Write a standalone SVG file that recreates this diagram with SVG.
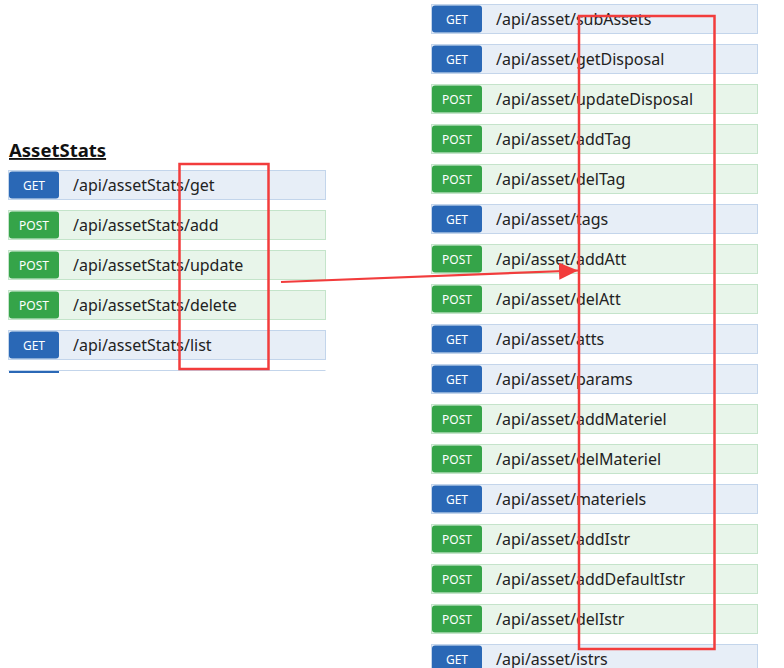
<svg xmlns="http://www.w3.org/2000/svg" width="784" height="668" viewBox="0 0 784 668">
<style>
.row-get{fill:#e7eef7;stroke:#c3d5eb;stroke-width:1}
.row-post{fill:#e8f5ea;stroke:#c4e4ca;stroke-width:1}
.b-get{fill:#2a68b6}
.b-post{fill:#35a449}
.m{font-family:"Noto Sans","Open Sans",sans-serif;font-size:12px;fill:#fff;text-anchor:middle}
.p{font-family:"Noto Sans","Open Sans",sans-serif;font-size:16px;fill:#222}
.title{font-family:"Noto Sans","Open Sans",sans-serif;font-size:18.5px;font-weight:bold;fill:#111;text-decoration:underline}
.hl{fill:none;stroke:#f23c3c;stroke-width:2.5}
</style>
<defs>
<marker id="ah" markerUnits="userSpaceOnUse" markerWidth="22" markerHeight="18" refX="19" refY="8.5" orient="auto">
<path d="M0,0 L19,8.5 L0,17 Z" fill="#f23c3c"/>
</marker>
</defs>
<rect width="784" height="668" fill="#fff"/>
<text class="title" x="9" y="157">AssetStats</text>
<g id="left-rows">
<g id="l-get" transform="translate(8.5,170.5)"><rect class="row-get" width="317" height="29"/><rect class="b-get" x="0.5" y="1" width="50" height="27" rx="3"/><text class="m" x="25.5" y="19.5">GET</text><text class="p" x="64.5" y="20.5">/api/assetStats/get</text></g>
<g id="l-add" transform="translate(8.5,210.5)"><rect class="row-post" width="317" height="29"/><rect class="b-post" x="0.5" y="1" width="50" height="27" rx="3"/><text class="m" x="25.5" y="19.5">POST</text><text class="p" x="64.5" y="20.5">/api/assetStats/add</text></g>
<g id="l-update" transform="translate(8.5,250.5)"><rect class="row-post" width="317" height="29"/><rect class="b-post" x="0.5" y="1" width="50" height="27" rx="3"/><text class="m" x="25.5" y="19.5">POST</text><text class="p" x="64.5" y="20.5">/api/assetStats/update</text></g>
<g id="l-delete" transform="translate(8.5,290.5)"><rect class="row-post" width="317" height="29"/><rect class="b-post" x="0.5" y="1" width="50" height="27" rx="3"/><text class="m" x="25.5" y="19.5">POST</text><text class="p" x="64.5" y="20.5">/api/assetStats/delete</text></g>
<g id="l-list" transform="translate(8.5,330.5)"><rect class="row-get" width="317" height="29"/><rect class="b-get" x="0.5" y="1" width="50" height="27" rx="3"/><text class="m" x="25.5" y="19.5">GET</text><text class="p" x="64.5" y="20.5">/api/assetStats/list</text></g>
<g id="l-cut"><line x1="8.5" y1="370.5" x2="325.5" y2="370.5" stroke="#c3d5eb"/><rect class="b-get" x="9" y="371" width="50" height="2"/></g>
</g>
<g id="right-rows">
<g id="r-subAssets" transform="translate(431.5,4.5)"><rect class="row-get" width="326" height="29"/><rect class="b-get" x="0.5" y="1" width="50" height="27" rx="3"/><text class="m" x="25.5" y="19.5">GET</text><text class="p" x="64.5" y="20.5">/api/asset/subAssets</text></g>
<g id="r-getDisposal" transform="translate(431.5,44.5)"><rect class="row-get" width="326" height="29"/><rect class="b-get" x="0.5" y="1" width="50" height="27" rx="3"/><text class="m" x="25.5" y="19.5">GET</text><text class="p" x="64.5" y="20.5">/api/asset/getDisposal</text></g>
<g id="r-updateDisposal" transform="translate(431.5,84.5)"><rect class="row-post" width="326" height="29"/><rect class="b-post" x="0.5" y="1" width="50" height="27" rx="3"/><text class="m" x="25.5" y="19.5">POST</text><text class="p" x="64.5" y="20.5">/api/asset/updateDisposal</text></g>
<g id="r-addTag" transform="translate(431.5,124.5)"><rect class="row-post" width="326" height="29"/><rect class="b-post" x="0.5" y="1" width="50" height="27" rx="3"/><text class="m" x="25.5" y="19.5">POST</text><text class="p" x="64.5" y="20.5">/api/asset/addTag</text></g>
<g id="r-delTag" transform="translate(431.5,164.5)"><rect class="row-post" width="326" height="29"/><rect class="b-post" x="0.5" y="1" width="50" height="27" rx="3"/><text class="m" x="25.5" y="19.5">POST</text><text class="p" x="64.5" y="20.5">/api/asset/delTag</text></g>
<g id="r-tags" transform="translate(431.5,204.5)"><rect class="row-get" width="326" height="29"/><rect class="b-get" x="0.5" y="1" width="50" height="27" rx="3"/><text class="m" x="25.5" y="19.5">GET</text><text class="p" x="64.5" y="20.5">/api/asset/tags</text></g>
<g id="r-addAtt" transform="translate(431.5,244.5)"><rect class="row-post" width="326" height="29"/><rect class="b-post" x="0.5" y="1" width="50" height="27" rx="3"/><text class="m" x="25.5" y="19.5">POST</text><text class="p" x="64.5" y="20.5">/api/asset/addAtt</text></g>
<g id="r-delAtt" transform="translate(431.5,284.5)"><rect class="row-post" width="326" height="29"/><rect class="b-post" x="0.5" y="1" width="50" height="27" rx="3"/><text class="m" x="25.5" y="19.5">POST</text><text class="p" x="64.5" y="20.5">/api/asset/delAtt</text></g>
<g id="r-atts" transform="translate(431.5,324.5)"><rect class="row-get" width="326" height="29"/><rect class="b-get" x="0.5" y="1" width="50" height="27" rx="3"/><text class="m" x="25.5" y="19.5">GET</text><text class="p" x="64.5" y="20.5">/api/asset/atts</text></g>
<g id="r-params" transform="translate(431.5,364.5)"><rect class="row-get" width="326" height="29"/><rect class="b-get" x="0.5" y="1" width="50" height="27" rx="3"/><text class="m" x="25.5" y="19.5">GET</text><text class="p" x="64.5" y="20.5">/api/asset/params</text></g>
<g id="r-addMateriel" transform="translate(431.5,404.5)"><rect class="row-post" width="326" height="29"/><rect class="b-post" x="0.5" y="1" width="50" height="27" rx="3"/><text class="m" x="25.5" y="19.5">POST</text><text class="p" x="64.5" y="20.5">/api/asset/addMateriel</text></g>
<g id="r-delMateriel" transform="translate(431.5,444.5)"><rect class="row-post" width="326" height="29"/><rect class="b-post" x="0.5" y="1" width="50" height="27" rx="3"/><text class="m" x="25.5" y="19.5">POST</text><text class="p" x="64.5" y="20.5">/api/asset/delMateriel</text></g>
<g id="r-materiels" transform="translate(431.5,484.5)"><rect class="row-get" width="326" height="29"/><rect class="b-get" x="0.5" y="1" width="50" height="27" rx="3"/><text class="m" x="25.5" y="19.5">GET</text><text class="p" x="64.5" y="20.5">/api/asset/materiels</text></g>
<g id="r-addIstr" transform="translate(431.5,524.5)"><rect class="row-post" width="326" height="29"/><rect class="b-post" x="0.5" y="1" width="50" height="27" rx="3"/><text class="m" x="25.5" y="19.5">POST</text><text class="p" x="64.5" y="20.5">/api/asset/addIstr</text></g>
<g id="r-addDefaultIstr" transform="translate(431.5,564.5)"><rect class="row-post" width="326" height="29"/><rect class="b-post" x="0.5" y="1" width="50" height="27" rx="3"/><text class="m" x="25.5" y="19.5">POST</text><text class="p" x="64.5" y="20.5">/api/asset/addDefaultIstr</text></g>
<g id="r-delIstr" transform="translate(431.5,604.5)"><rect class="row-post" width="326" height="29"/><rect class="b-post" x="0.5" y="1" width="50" height="27" rx="3"/><text class="m" x="25.5" y="19.5">POST</text><text class="p" x="64.5" y="20.5">/api/asset/delIstr</text></g>
<g id="r-istrs" transform="translate(431.5,644.5)"><rect class="row-get" width="326" height="29"/><rect class="b-get" x="0.5" y="1" width="50" height="27" rx="3"/><text class="m" x="25.5" y="19.5">GET</text><text class="p" x="64.5" y="20">/api/asset/istrs</text></g>
</g>
<g id="highlights">
<rect id="hl-left" class="hl" x="179.5" y="164" width="89" height="205"/>
<rect id="hl-right" class="hl" x="579" y="16" width="135.5" height="633"/>
</g>
<g id="connectors">
<line x1="281" y1="282" x2="578" y2="270.5" stroke="#f23c3c" stroke-width="2.2" marker-end="url(#ah)"/>
</g>
</svg>
